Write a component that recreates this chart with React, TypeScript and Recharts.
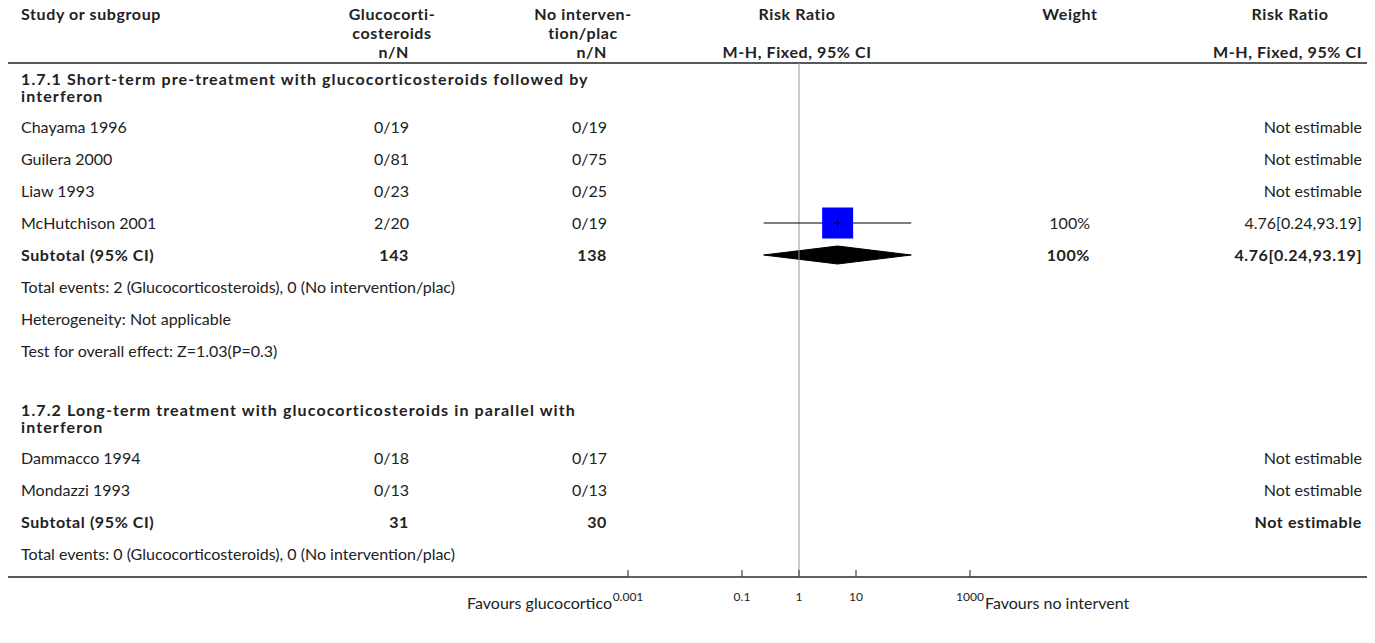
import { ComposedChart, XAxis, YAxis, Scatter, Line, Area, ReferenceLine, Customized } from 'recharts';

// column headers
const headTop = ['Study or subgroup', 'Glucocorti-', 'No interven-', 'Risk Ratio', 'Weight', 'Risk Ratio'];
const headMid = ['', 'costeroids', 'tion/plac', '', '', ''];
const headBottom = ['', 'n/N', 'n/N', 'M-H, Fixed, 95% CI', '', 'M-H, Fixed, 95% CI'];

// subgroup 1.7.1
const group1Title = ['1.7.1 Short-term pre-treatment with glucocorticosteroids followed by', 'interferon'];
const group1Studies = ['Chayama 1996', 'Guilera 2000', 'Liaw 1993', 'McHutchison 2001'];
const group1TreatEvents = [0, 0, 0, 2];
const group1TreatTotal = [19, 81, 23, 20];
const group1CtrlEvents = [0, 0, 0, 0];
const group1CtrlTotal = [19, 75, 25, 19];
const group1Weight = [null, null, null, 100];
const group1RR = [null, null, null, 4.76];
const group1Low = [null, null, null, 0.24];
const group1High = [null, null, null, 93.19];
const group1Subtotal = { treat: 143, ctrl: 138, weight: 100, rr: 4.76, low: 0.24, high: 93.19 };
const group1Notes = [
  'Total events: 2 (Glucocorticosteroids), 0 (No intervention/plac)',
  'Heterogeneity: Not applicable',
  'Test for overall effect: Z=1.03(P=0.3)',
];

// subgroup 1.7.2
const group2Title = ['1.7.2 Long-term treatment with glucocorticosteroids in parallel with', 'interferon'];
const group2Studies = ['Dammacco 1994', 'Mondazzi 1993'];
const group2TreatEvents = [0, 0];
const group2TreatTotal = [18, 13];
const group2CtrlEvents = [0, 0];
const group2CtrlTotal = [17, 13];
const group2Subtotal = { treat: 31, ctrl: 30, weight: null, rr: null, low: null, high: null };
const group2Notes = ['Total events: 0 (Glucocorticosteroids), 0 (No intervention/plac)'];

const axisTicks = [0.001, 0.1, 1, 10, 1000];
const favoursLeft = 'Favours glucocortico';
const favoursRight = 'Favours no intervent';

const W = 1375;
const H = 643;
const TOP = 63;
const BOTTOM = 577;
const AXIS_H = 30;
const TITLE_H = 46;
const ROW_H = 32;
const FONT = 'Lato, "Noto Sans", sans-serif';
const FS = 16;
const BOLD_SP = 0.6;
const TITLE_SP = 1.1;

const fmtEffect = (rr, lo, hi) => (rr == null ? 'Not estimable' : `${rr.toFixed(2)}[${lo},${hi}]`);

type Row = {
  kind: string;
  y?: number;
  x: number;
  lines?: string[];
  name?: string;
  treat?: string;
  ctrl?: string;
  weight?: string;
  effect?: string;
};

function buildRows() {
  const rows: Row[] = [];
  let cur = 2;
  const push = (r: Row, h: number) => {
    r.y = cur + h / 2;
    rows.push(r);
    cur += h;
  };
  const group = (title, studies, te, tt, ce, ct, wt, rr, lo, hi, sub, notes) => {
    push({ kind: 'title', x: 1, lines: title }, TITLE_H);
    studies.forEach((s, i) => {
      push({
        kind: 'study', x: 1, name: s,
        treat: `${te[i]}/${tt[i]}`, ctrl: `${ce[i]}/${ct[i]}`,
        weight: wt && wt[i] != null ? `${wt[i]}%` : '',
        effect: fmtEffect(rr ? rr[i] : null, lo ? lo[i] : null, hi ? hi[i] : null),
      }, ROW_H);
    });
    push({
      kind: 'subtotal', x: 1, name: 'Subtotal (95% CI)', treat: `${sub.treat}`, ctrl: `${sub.ctrl}`,
      weight: sub.weight != null ? `${sub.weight}%` : '', effect: fmtEffect(sub.rr, sub.low, sub.high),
    }, ROW_H);
    notes.forEach((n) => push({ kind: 'note', x: 1, name: n }, ROW_H));
  };
  group(group1Title, group1Studies, group1TreatEvents, group1TreatTotal, group1CtrlEvents, group1CtrlTotal,
    group1Weight, group1RR, group1Low, group1High, group1Subtotal, group1Notes);
  cur += ROW_H - 3;
  group(group2Title, group2Studies, group2TreatEvents, group2TreatTotal, group2CtrlEvents, group2CtrlTotal,
    null, null, null, null, group2Subtotal, group2Notes);
  return rows;
}

const rows = buildRows();
const studyRows = rows.filter((r) => r.kind === 'study');
const mcRow = studyRows[3];
const subRow1 = rows.filter((r) => r.kind === 'subtotal')[0];

const squareData = [{ x: group1RR[3], y: mcRow.y }];
const ciData = [
  { x: group1Low[3], y: mcRow.y },
  { x: group1High[3], y: mcRow.y },
];
const diamondData = [
  { x: group1Subtotal.low, band: [subRow1.y, subRow1.y] },
  { x: group1Subtotal.rr, band: [subRow1.y - 9, subRow1.y + 9] },
  { x: group1Subtotal.high, band: [subRow1.y, subRow1.y] },
];

const RowText = (props) => {
  const { cy, payload } = props;
  const r: Row = payload;
  if (!r) return null;
  const base = { fontFamily: FONT, fontSize: FS, fill: '#222', dy: '0.35em' };
  if (r.kind === 'title') {
    return (
      <g fontWeight="bold" letterSpacing={TITLE_SP}>
        <text x={21} y={cy - 8.5} {...base}>{r.lines[0]}</text>
        <text x={21} y={cy + 8.5} {...base}>{r.lines[1]}</text>
      </g>
    );
  }
  if (r.kind === 'note') {
    return <text x={21} y={cy} {...base}>{r.name}</text>;
  }
  const sub = r.kind === 'subtotal';
  return (
    <g fontWeight={sub ? 'bold' : 'normal'} letterSpacing={sub ? BOLD_SP : 0}>
      <text x={21} y={cy} {...base}>{r.name}</text>
      <text x={409} y={cy} {...base} textAnchor="end">{r.treat}</text>
      <text x={607} y={cy} {...base} textAnchor="end">{r.ctrl}</text>
      <text x={1090} y={cy} {...base} textAnchor="end">{r.weight}</text>
      <text x={1362} y={cy} {...base} textAnchor="end">{r.effect}</text>
    </g>
  );
};

const Square = (props) => {
  const { cx, cy } = props;
  const s = 31;
  return (
    <g>
      <rect x={cx - s / 2} y={cy - s / 2} width={s} height={s} fill="#0000ff" />
      <line x1={cx - 3} x2={cx + 3} y1={cy} y2={cy} stroke="#000" />
      <line x1={cx} x2={cx} y1={cy - 5} y2={cy + 5} stroke="#000" />
    </g>
  );
};

const AxisTick = (props) => {
  const { x, y, payload } = props;
  return (
    <g>
      <line x1={x} x2={x} y1={y - 7} y2={y} stroke="#444" strokeWidth={1.2} />
      <text x={x} y={y + 24} textAnchor="middle" fontFamily={FONT} fontSize={12} fill="#222">{payload.value}</text>
    </g>
  );
};

const Frame = () => {
  const base = { fontFamily: FONT, fontSize: FS, fill: '#222', fontWeight: 'bold', dy: '0.35em', letterSpacing: BOLD_SP };
  const cols = [
    { x: 21, a: 'start' },
    { x: 392, a: 'middle' },
    { x: 583, a: 'middle' },
    { x: 797, a: 'middle' },
    { x: 1070, a: 'middle' },
    { x: 1290, a: 'middle' },
  ];
  return (
    <g>
      {headTop.map((t, i) => (
        <text key={'t' + i} x={cols[i].x} y={14} textAnchor={cols[i].a} {...base}>{t}</text>
      ))}
      {headMid.map((t, i) => (
        <text key={'m' + i} x={cols[i].x} y={33} textAnchor={cols[i].a} {...base}>{t}</text>
      ))}
      {headBottom.map((t, i) => (
        <text key={'b' + i} x={i === 5 ? 1362 : i === 1 ? 409 : i === 2 ? 607 : cols[i].x} y={52}
          textAnchor={i === 5 || i === 1 || i === 2 ? 'end' : cols[i].a} {...base}>{t}</text>
      ))}
      <line x1={8} x2={1367} y1={TOP} y2={TOP} stroke="#222" strokeWidth={1.5} />
      <line x1={8} x2={1367} y1={BOTTOM} y2={BOTTOM} stroke="#222" strokeWidth={1.5} />
      <text x={612} y={603} textAnchor="end" fontFamily={FONT} fontSize={FS} fill="#222" dy="0.35em">{favoursLeft}</text>
      <text x={985} y={603} fontFamily={FONT} fontSize={FS} fill="#222" dy="0.35em">{favoursRight}</text>
    </g>
  );
};

export default function App() {
  return (
    <div style={{ position: 'absolute', left: 0, top: 0, width: W, height: H, background: '#fff' }}>
      <ComposedChart
        width={W}
        height={H}
        margin={{ top: TOP, bottom: H - BOTTOM - AXIS_H, left: 628, right: W - 970 }}
      >
        <Customized component={Frame} />
        <XAxis
          type="number"
          dataKey="x"
          scale="log"
          domain={[0.001, 1000]}
          ticks={axisTicks}
          axisLine={{ stroke: '#666', strokeWidth: 1.5 }}
          tickLine={false}
          tickSize={0}
          tickMargin={0}
          height={AXIS_H}
          tick={<AxisTick />}
          interval={0}
        />
        <YAxis type="number" dataKey="y" domain={[0, BOTTOM - TOP]} reversed hide />
        <ReferenceLine x={1} stroke="#999" strokeWidth={1} />
        <Area
          data={diamondData}
          dataKey="band"
          type="linear"
          fill="#000"
          fillOpacity={1}
          stroke="#000"
          isAnimationActive={false}
        />
        <Line data={ciData} dataKey="y" stroke="#000" strokeWidth={1.2} dot={false} isAnimationActive={false} />
        <Scatter data={squareData} shape={<Square />} isAnimationActive={false} />
        <Scatter data={rows} shape={<RowText />} isAnimationActive={false} />
      </ComposedChart>
    </div>
  );
}
